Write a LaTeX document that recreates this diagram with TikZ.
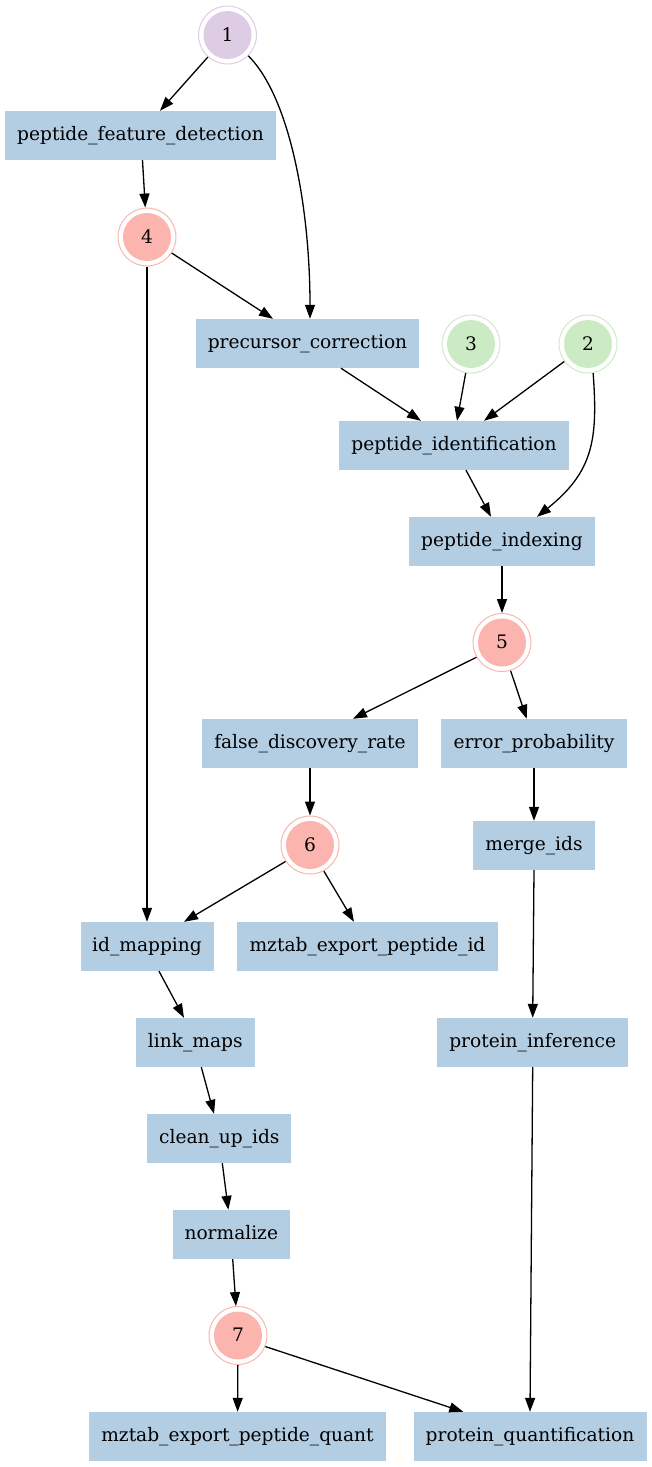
\documentclass[tikz,border=0pt]{standalone}
\usepackage{fontspec}
\setmainfont{DejaVu Serif}
\usetikzlibrary{arrows.meta}
\definecolor{boxc}{HTML}{B3CDE3}
\definecolor{redc}{HTML}{FBB4AE}
\definecolor{greenc}{HTML}{CCEBC5}
\definecolor{purpc}{HTML}{DECBE4}
\begin{document}
\begin{tikzpicture}[x=1pt,y=-1pt,
  every node/.style={font=\fontsize{18.6}{22}\selectfont},
  box/.style={rectangle, fill=boxc, minimum height=49pt, inner sep=0pt, text height=14pt, text depth=4.4pt, minimum width=#1},
  circ/.style={circle, draw=#1, line width=1pt, minimum size=58pt, inner sep=0pt, text height=13.6pt, text depth=1.5pt,
    path picture={\fill[#1] (path picture bounding box.center) circle[radius=24pt];}},
  conn/.style={draw, line width=1.3pt, -{Triangle[length=14pt,width=10pt]}}
]
\useasboundingbox (0,0) rectangle (651,1467);

% circles
\node[circ=purpc] (n1) at (227.5,35) {1};
\node[circ=redc] (n4) at (147,237) {4};
\node[circ=greenc] (n3) at (471,344) {3};
\node[circ=greenc] (n2) at (588,344) {2};
\node[circ=redc] (n5) at (502,642.5) {5};
\node[circ=redc] (n6) at (310,845) {6};
\node[circ=redc] (n7) at (238,1335.5) {7};

% boxes
\node[box=271pt] (pfd) at (140.5,135.5) {peptide\_feature\_detection};
\node[box=223pt] (pc) at (307.5,343.5) {precursor\_correction};
\node[box=230pt] (pid) at (454,445.5) {peptide\_identification};
\node[box=186pt] (pix) at (502,541.5) {peptide\_indexing};
\node[box=216pt] (fdr) at (310,743.5) {false\_discovery\_rate};
\node[box=186pt] (ep) at (534,743.5) {error\_probability};
\node[box=122pt] (mi) at (534,845.5) {merge\_ids};
\node[box=133pt] (idm) at (147,946.5) {id\_mapping};
\node[box=261pt] (mzid) at (367.5,946.5) {mztab\_export\_peptide\_id};
\node[box=119pt] (lm) at (195.3,1042.5) {link\_maps};
\node[box=191pt] (pi) at (532.7,1042.5) {protein\_inference};
\node[box=144pt] (cui) at (219.3,1138.5) {clean\_up\_ids};
\node[box=117pt] (nz) at (231.3,1234.5) {normalize};
\node[box=297pt] (mzq) at (237.5,1436.5) {mztab\_export\_peptide\_quant};
\node[box=233pt] (pq) at (530,1436.5) {protein\_quantification};

% connectors
\draw[conn] (n1) -- ([xshift=19.5pt]pfd.north);
\draw[conn] (n1.-45) .. controls +(42,42) and +(0,-110) .. ([xshift=2.5pt]pc.north);
\draw[conn] ([xshift=2pt]pfd.south) -- (n4);
\draw[conn] (n4) -- ([xshift=-34.5pt]pc.north);
\draw[conn] (n4) -- (idm);
\draw[conn] ([xshift=33.5pt]pc.south) -- ([xshift=-33pt]pid.north);
\draw[conn] (n3) -- ([xshift=3pt]pid.north);
\draw[conn] (n2) -- ([xshift=30pt]pid.north);
\draw[conn] ([xshift=12pt]pid.south) -- ([xshift=-11pt]pix.north);
\draw[conn] (n2.-80) .. controls +(5,67) and +(56,-45) .. ([xshift=35pt]pix.north);
\draw[conn] (pix) -- (n5);
\draw[conn] (n5.210) -- ([xshift=43pt]fdr.north);
\draw[conn] (n5.-73) -- ([xshift=-7.3pt]ep.north);
\draw[conn] (fdr) -- (n6);
\draw[conn] (ep) -- (mi);
\draw[conn] (n6.214) -- ([xshift=37pt]idm.north);
\draw[conn] (n6.-62) -- ([xshift=-13.5pt]mzid.north);
\draw[conn] (mi.south) -- (pi.north);
\draw[conn] ([xshift=12pt]idm.south) -- ([xshift=-11.3pt]lm.north);
\draw[conn] ([xshift=6pt]lm.south) -- ([xshift=-5.3pt]cui.north);
\draw[conn] ([xshift=3pt]cui.south) -- ([xshift=-3pt]nz.north);
\draw[conn] ([xshift=1.4pt]nz.south) -- (n7);
\draw[conn] (n7) -- (mzq);
\draw[conn] (n7.-22) -- ([xshift=-66.7pt]pq.north);
\draw[conn] (pi.south) -- (pq.north);
\end{tikzpicture}
\end{document}
